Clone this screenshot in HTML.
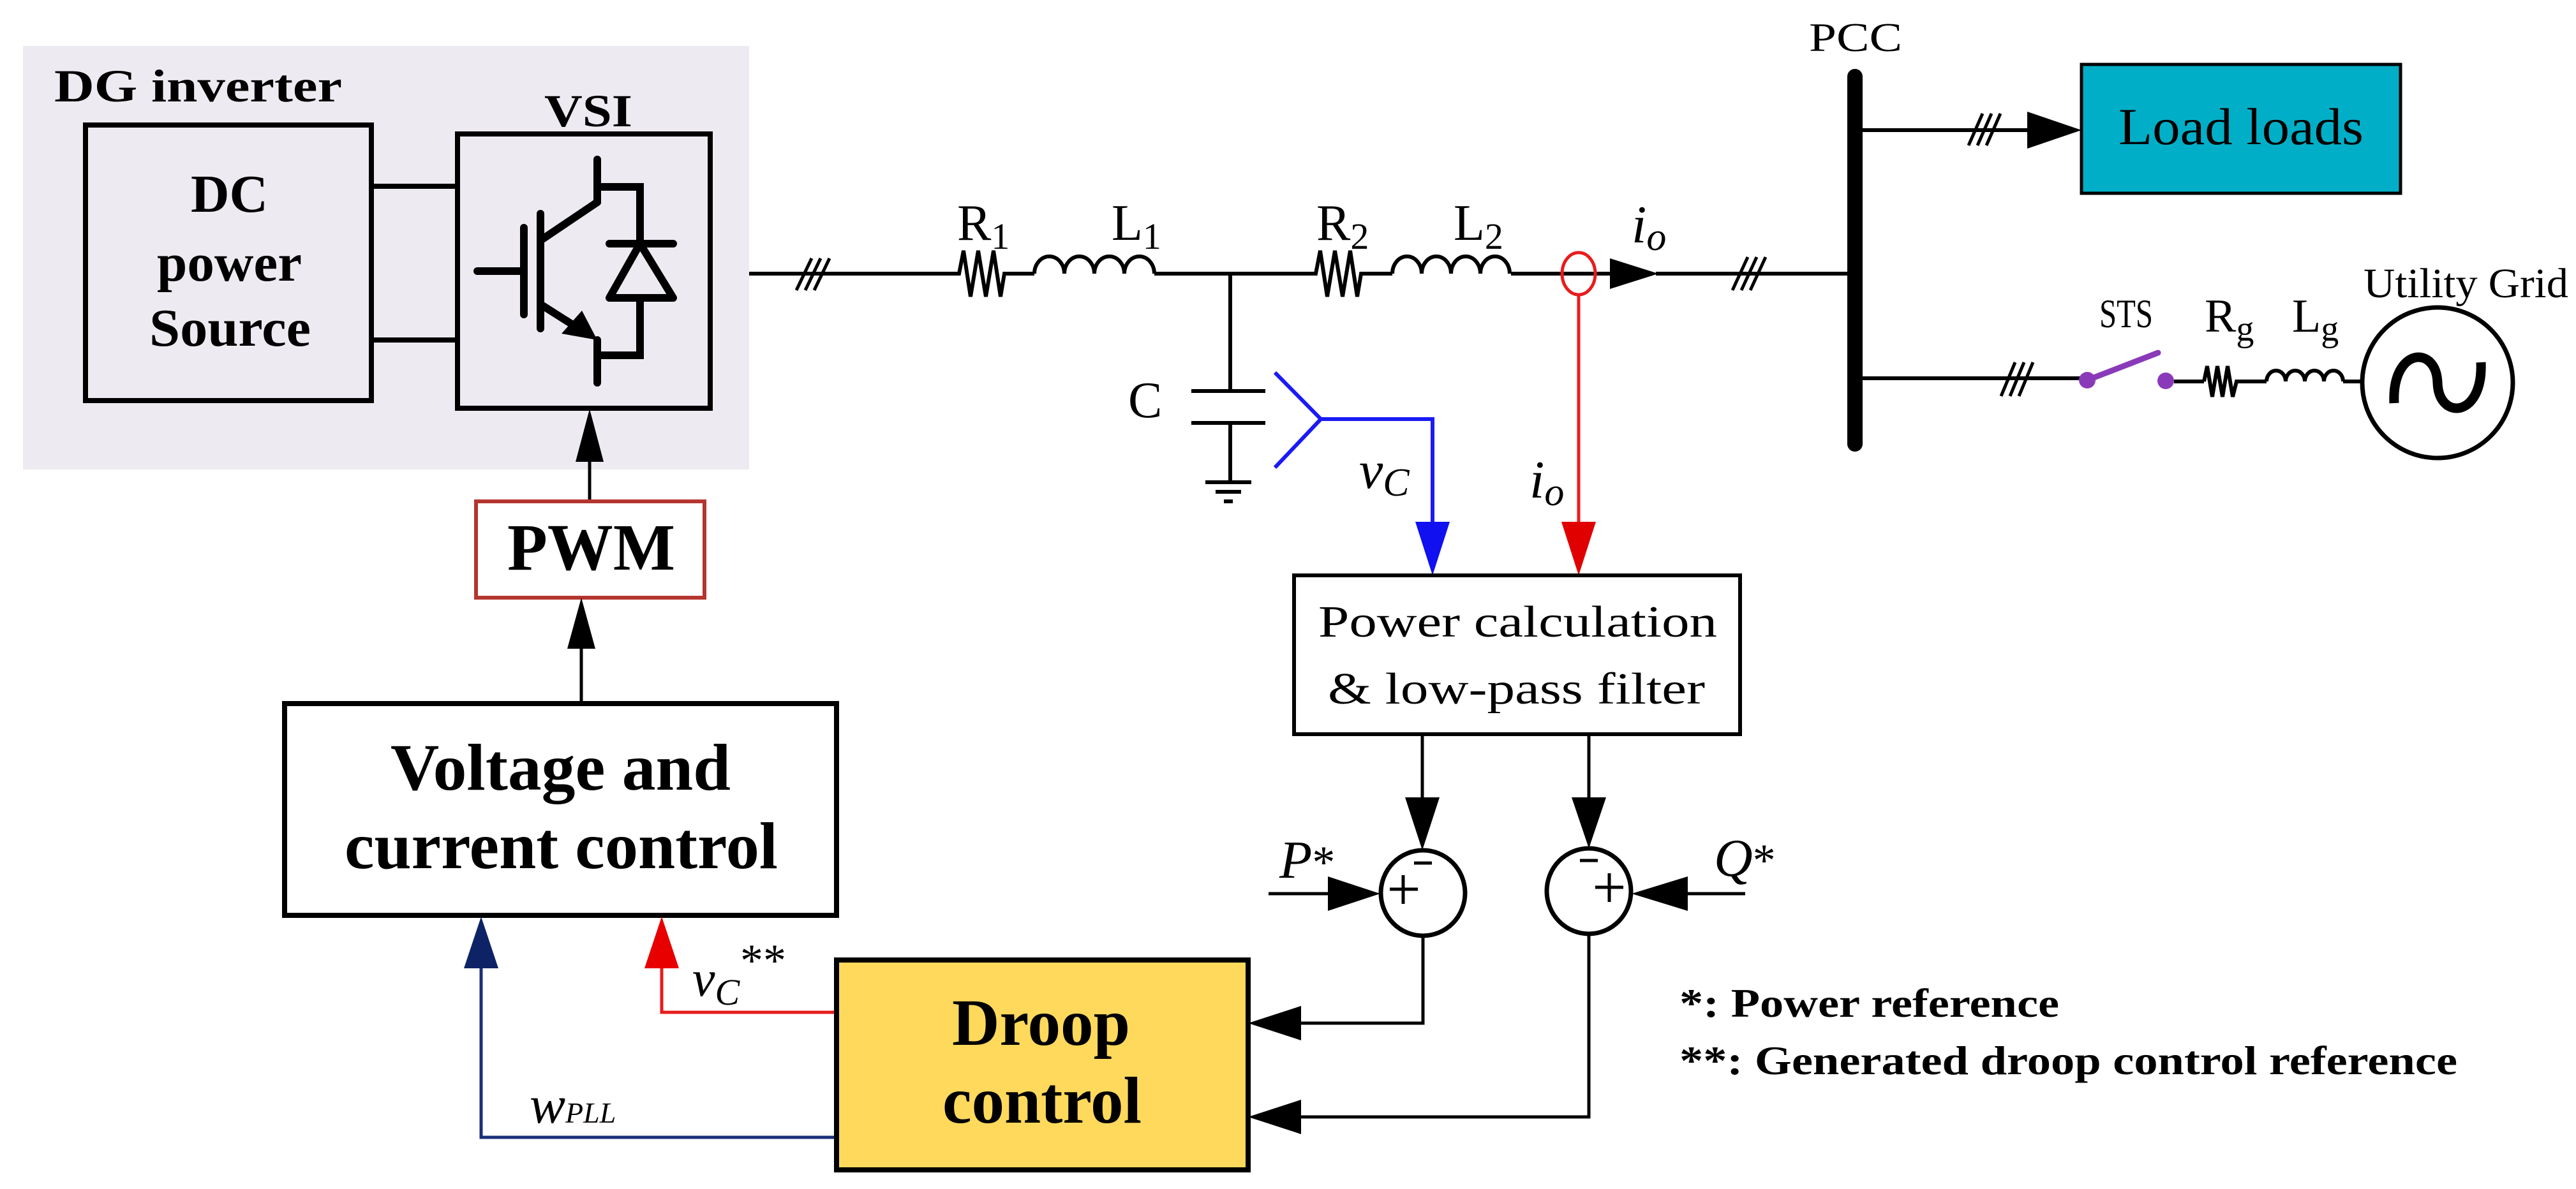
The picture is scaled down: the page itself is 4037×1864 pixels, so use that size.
<!DOCTYPE html>
<html><head><meta charset="utf-8"><style>
html,body{margin:0;padding:0;background:#fff;}
svg{display:block;font-family:"Liberation Serif","Times New Roman",serif;}
text{font-family:"Liberation Serif","Times New Roman",serif;}
</style></head><body>
<svg width="4037" height="1864" viewBox="0 0 4037 1864" xmlns="http://www.w3.org/2000/svg" font-family="Liberation Serif, Times New Roman, serif">
<rect x="0" y="0" width="4037" height="1864" fill="#fff"/>
<rect x="36" y="72" width="1138" height="664" fill="#EEEAF1"/>
<text x="85" y="159" font-size="72" font-weight="bold" textLength="451" lengthAdjust="spacingAndGlyphs">DG inverter</text>
<text x="853" y="198" font-size="72" font-weight="bold" textLength="138" lengthAdjust="spacingAndGlyphs">VSI</text>
<rect x="134" y="196" width="448" height="432" fill="none" stroke="#000" stroke-width="8"/>
<text x="299" y="332" font-size="84" font-weight="bold" textLength="121" lengthAdjust="spacingAndGlyphs">DC</text>
<text x="246" y="440" font-size="84" font-weight="bold" textLength="227" lengthAdjust="spacingAndGlyphs">power</text>
<text x="234" y="542" font-size="84" font-weight="bold" textLength="253" lengthAdjust="spacingAndGlyphs">Source</text>
<line x1="582" y1="292" x2="717" y2="292" stroke="#000" stroke-width="8"/>
<line x1="582" y1="533" x2="717" y2="533" stroke="#000" stroke-width="8"/>
<rect x="717" y="210" width="396" height="430" fill="none" stroke="#000" stroke-width="8"/>
<g stroke="#000" stroke-width="12" fill="none" stroke-linecap="round">
<line x1="936" y1="250" x2="936" y2="317"/>
<line x1="936" y1="317" x2="847" y2="377"/>
<line x1="847" y1="335" x2="847" y2="515"/>
<line x1="821" y1="357" x2="821" y2="493"/>
<line x1="748" y1="425" x2="821" y2="425"/>
<line x1="847" y1="477" x2="910" y2="517"/>
<line x1="936" y1="533" x2="936" y2="600"/>
<polyline points="936,293 1003,293 1003,382" stroke-linecap="butt"/>
<line x1="955" y1="382" x2="1055" y2="382"/>
<polygon points="1003,382 955,467 1055,467" stroke-linejoin="round"/>
<polyline points="1003,467 1003,557 936,557" stroke-linecap="butt"/>
</g>
<polygon points="936,533 880,523 912,487" fill="#000"/>
<line x1="924" y1="786" x2="924" y2="720" stroke="#000" stroke-width="5"/>
<polygon points="924,641 902,724 946,724" fill="#000"/>
<rect x="746" y="786" width="358" height="151" fill="#fff" stroke="#B5352F" stroke-width="6"/>
<text x="795" y="893" font-size="104" font-weight="bold" textLength="263" lengthAdjust="spacingAndGlyphs">PWM</text>
<line x1="911" y1="1103" x2="911" y2="1010" stroke="#000" stroke-width="5"/>
<polygon points="911,937 889,1017 933,1017" fill="#000"/>
<rect x="446" y="1103" width="865" height="332" fill="#fff" stroke="#000" stroke-width="8"/>
<text x="612" y="1238" font-size="104" font-weight="bold" textLength="533" lengthAdjust="spacingAndGlyphs">Voltage and</text>
<text x="540" y="1361" font-size="104" font-weight="bold" textLength="679" lengthAdjust="spacingAndGlyphs">current control</text>
<polyline points="1311,1783 754,1783 754,1510" fill="none" stroke="#1B2F7A" stroke-width="5"/>
<polygon points="754,1437 727,1518 781,1518" fill="#0E2366"/>
<polyline points="1311,1587 1037,1587 1037,1510" fill="none" stroke="#E81C1C" stroke-width="5"/>
<polygon points="1037,1437 1010,1518 1064,1518" fill="#E80000"/>
<text x="1085" y="1561" font-size="80" font-style="italic">v<tspan font-size="58" dy="14">C</tspan></text>
<text x="1160" y="1530" font-size="72">**</text>
<text x="830" y="1760" font-size="84" font-style="italic">w<tspan font-size="46">PLL</tspan></text>
<rect x="1311" y="1505" width="645" height="329" fill="#FFD95C" stroke="#000" stroke-width="8"/>
<text x="1492" y="1638" font-size="104" font-weight="bold" textLength="279" lengthAdjust="spacingAndGlyphs">Droop</text>
<text x="1477" y="1760" font-size="104" font-weight="bold" textLength="312" lengthAdjust="spacingAndGlyphs">control</text>
<g stroke="#000" stroke-width="6" fill="none">
<line x1="1174" y1="429" x2="1496" y2="429"/>
<polyline points="1496,429 1503,429 1510,393 1521,465 1533,393 1545,465 1557,393 1568,465 1574,429 1579,429"/>
<line x1="1579" y1="429" x2="1621" y2="429"/>
<path d="M1621,429 a23.5,27 0 0 1 47,0 a23.5,27 0 0 1 47,0 a23.5,27 0 0 1 47,0 a23.5,27 0 0 1 47,0"/>
<line x1="1809" y1="429" x2="2057" y2="429"/>
<polyline points="2057,429 2062,429 2069,393 2080,465 2092,393 2104,465 2116,393 2127,465 2133,429 2137,429"/>
<line x1="2137" y1="429" x2="2182" y2="429"/>
<path d="M2182,429 a23,27 0 0 1 46,0 a23,27 0 0 1 46,0 a23,27 0 0 1 46,0 a23,27 0 0 1 46,0"/>
<line x1="2368" y1="429" x2="2525" y2="429"/>
<line x1="2595" y1="429" x2="2907" y2="429"/>
<line x1="1928" y1="429" x2="1928" y2="613"/>
<line x1="1867" y1="613" x2="1983" y2="613"/>
<line x1="1867" y1="663" x2="1983" y2="663"/>
<line x1="1928" y1="663" x2="1928" y2="756"/>
<line x1="1889" y1="756" x2="1961" y2="756"/>
<line x1="1905" y1="771" x2="1945" y2="771"/>
<line x1="1918" y1="786" x2="1932" y2="786"/>
<g stroke-width="5">
<line x1="1248" y1="455" x2="1272" y2="405"/><line x1="1262" y1="455" x2="1286" y2="405"/><line x1="1276" y1="455" x2="1300" y2="405"/>
<line x1="2715" y1="455" x2="2739" y2="403"/><line x1="2729" y1="455" x2="2753" y2="403"/><line x1="2743" y1="455" x2="2767" y2="403"/>
<line x1="3085" y1="228" x2="3107" y2="178"/><line x1="3099" y1="228" x2="3121" y2="178"/><line x1="3113" y1="228" x2="3135" y2="178"/>
<line x1="3136" y1="621" x2="3158" y2="568"/><line x1="3150" y1="621" x2="3172" y2="568"/><line x1="3164" y1="621" x2="3186" y2="568"/>
</g>
</g>
<polygon points="2599,429 2523,405 2523,453" fill="#000"/>
<text x="1500" y="376" font-size="80">R<tspan font-size="58" dy="14">1</tspan></text>
<text x="1742" y="376" font-size="80">L<tspan font-size="58" dy="14">1</tspan></text>
<text x="2063" y="376" font-size="80">R<tspan font-size="58" dy="14">2</tspan></text>
<text x="2278" y="376" font-size="80">L<tspan font-size="58" dy="14">2</tspan></text>
<text x="2557" y="380" font-size="84" font-style="italic">i<tspan font-size="62" dy="12">o</tspan></text>
<text x="1768" y="654" font-size="80">C</text>
<polyline points="1998,584 2070,657 1998,733" fill="none" stroke="#1A1AF5" stroke-width="6"/>
<polyline points="2070,657 2245,657 2245,830" fill="none" stroke="#1A1AF5" stroke-width="6"/>
<polygon points="2245,902 2218,818 2272,818" fill="#1010F0"/>
<text x="2130" y="765" font-size="84" font-style="italic">v<tspan font-size="62" dy="12">C</tspan></text>
<ellipse cx="2474" cy="429" rx="26" ry="33" fill="none" stroke="#E81C1C" stroke-width="5"/>
<line x1="2474" y1="462" x2="2474" y2="830" stroke="#E81C1C" stroke-width="5"/>
<polygon points="2474,902 2447,818 2501,818" fill="#E00000"/>
<text x="2397" y="780" font-size="84" font-style="italic">i<tspan font-size="62" dy="12">o</tspan></text>
<rect x="2028" y="902" width="699" height="249" fill="#fff" stroke="#000" stroke-width="6"/>
<text x="2066" y="998" font-size="70" textLength="625" lengthAdjust="spacingAndGlyphs">Power calculation</text>
<text x="2081" y="1103" font-size="70" textLength="591" lengthAdjust="spacingAndGlyphs">&amp; low-pass filter</text>
<g stroke="#000" stroke-width="5" fill="none">
<line x1="2229" y1="1151" x2="2229" y2="1255"/>
<line x1="2490" y1="1151" x2="2490" y2="1255"/>
<ellipse cx="2230" cy="1400" rx="66" ry="67" stroke-width="7"/>
<ellipse cx="2490" cy="1397" rx="66" ry="67" stroke-width="7"/>
<line x1="1988" y1="1401" x2="2090" y2="1401"/>
<line x1="2735" y1="1401" x2="2640" y2="1401"/>
<polyline points="2230,1467 2230,1604 2030,1604"/>
<polyline points="2490,1464 2490,1751 2030,1751"/>
</g>
<polygon points="2229,1333 2202,1250 2256,1250" fill="#000"/>
<polygon points="2490,1330 2463,1250 2517,1250" fill="#000"/>
<polygon points="2163,1401 2081,1374 2081,1428" fill="#000"/>
<polygon points="2557,1401 2645,1374 2645,1428" fill="#000"/>
<polygon points="1956,1604 2039,1577 2039,1631" fill="#000"/>
<polygon points="1956,1751 2039,1724 2039,1778" fill="#000"/>
<g stroke="#000" stroke-width="5">
<line x1="2216" y1="1353" x2="2244" y2="1353"/>
<line x1="2178" y1="1394" x2="2222" y2="1394"/><line x1="2199" y1="1372" x2="2199" y2="1417"/>
<line x1="2476" y1="1349" x2="2504" y2="1349"/>
<line x1="2500" y1="1391" x2="2544" y2="1391"/><line x1="2522" y1="1369" x2="2522" y2="1414"/>
</g>
<text x="2005" y="1376" font-size="84" font-style="italic">P<tspan font-style="normal" font-size="72">*</tspan></text>
<text x="2686" y="1373" font-size="84" font-style="italic">Q<tspan font-style="normal" font-size="72">*</tspan></text>
<text x="2632" y="1594" font-size="64" font-weight="bold" textLength="595" lengthAdjust="spacingAndGlyphs">*: Power reference</text>
<text x="2632" y="1684" font-size="64" font-weight="bold" textLength="1219" lengthAdjust="spacingAndGlyphs">**: Generated droop control reference</text>
<line x1="2907" y1="120" x2="2907" y2="696" stroke="#000" stroke-width="24" stroke-linecap="round"/>
<text x="2835" y="80" font-size="64" textLength="146" lengthAdjust="spacingAndGlyphs">PCC</text>
<line x1="2907" y1="204" x2="3180" y2="204" stroke="#000" stroke-width="6"/>
<polygon points="3262,204 3177,175 3177,233" fill="#000"/>
<rect x="3262" y="101" width="500" height="202" fill="#00AFC7" stroke="#000" stroke-width="5"/>
<text x="3320" y="226" font-size="82" textLength="384" lengthAdjust="spacingAndGlyphs">Load loads</text>
<line x1="2907" y1="593" x2="3271" y2="593" stroke="#000" stroke-width="6"/>
<line x1="3271" y1="596" x2="3382" y2="553" stroke="#8A3AB9" stroke-width="9" stroke-linecap="round"/>
<circle cx="3271" cy="596" r="13" fill="#8A3AB9"/>
<circle cx="3394" cy="597" r="13" fill="#8A3AB9"/>
<g stroke="#000" stroke-width="6" fill="none">
<line x1="3407" y1="598" x2="3454" y2="598"/>
<polyline points="3454,598 3459,574 3467,622 3475,574 3483,622 3491,574 3499,622 3505,598 3552,598"/>
<path d="M3552,598 a15,17 0 0 1 30,0 a15,17 0 0 1 30,0 a15,17 0 0 1 30,0 a15,17 0 0 1 30,0"/>
<line x1="3672" y1="598" x2="3702" y2="598"/>
<circle cx="3820" cy="600" r="118" stroke-width="7"/>
<path d="M3752,632 C3748,545 3818,540 3820,600 C3822,660 3892,655 3888,568" stroke-width="15"/>
</g>
<text x="3290" y="513" font-size="64" textLength="84" lengthAdjust="spacingAndGlyphs">STS</text>
<text x="3455" y="520" font-size="74">R<tspan font-size="56" dy="14">g</tspan></text>
<text x="3592" y="520" font-size="74">L<tspan font-size="56" dy="14">g</tspan></text>
<text x="3704" y="466" font-size="66" textLength="321" lengthAdjust="spacingAndGlyphs">Utility Grid</text>
</svg>
</body></html>
